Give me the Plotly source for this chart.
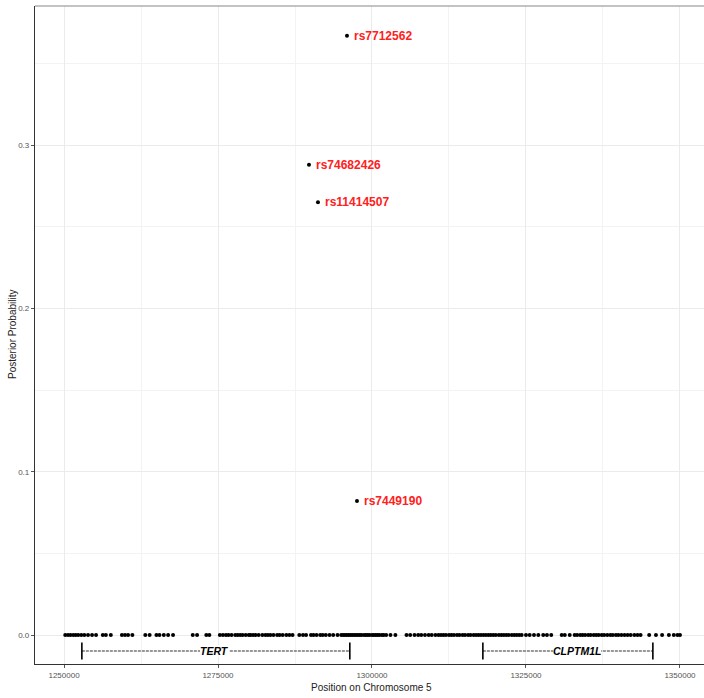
import plotly.graph_objects as go

# Positions (bp) of variants with posterior probability ~0 across the region
bg_pos = [
    1250200, 1250650, 1251050, 1251500, 1251900, 1252300, 1252800, 1253300,
    1253900, 1254550, 1255200,
    1256300, 1256800, 1257600,
    1259400, 1259900, 1260400, 1261100,
    1263200, 1263900, 1265000, 1265500, 1266200, 1266900, 1267700,
    1270900, 1271600,
    1273100, 1273600,
    1275300, 1275800, 1276300, 1276700, 1277200, 1277800, 1278200, 1278600,
    1279000, 1279500, 1280000, 1280300, 1280700, 1281100, 1281600, 1282200,
    1282700, 1283100, 1283500, 1284000, 1284600, 1285000, 1285500, 1286100,
    1286600, 1287100,
    1288200, 1288800, 1289300, 1290100, 1290500, 1291000, 1291600, 1292000,
    1292500, 1293100, 1293700, 1294400,
    1295000, 1295300, 1295600, 1295900, 1296200, 1296500, 1296800, 1297100,
    1297400, 1297700, 1298000, 1298300, 1298700, 1299000, 1299300, 1299600,
    1300000, 1300300, 1300600, 1300900, 1301200, 1301600, 1301900, 1302300,
    1303000, 1303800,
    1305600, 1306200, 1306900, 1307500, 1308000, 1308600, 1309200, 1309700,
    1310300,
    1310800, 1311200, 1311600, 1312000, 1312500, 1312900, 1313300, 1313800,
    1314200, 1314700, 1315100, 1315600, 1316000, 1316500, 1316900,
    1317300, 1317700, 1318100, 1318500, 1318900, 1319300, 1319700, 1320100,
    1320600, 1321000, 1321400, 1321800, 1322200, 1322700, 1323100, 1323500,
    1323900, 1324300,
    1325000, 1325600, 1326300, 1327000, 1327800, 1328400, 1329100,
    1330800, 1331300, 1332100,
    1332900, 1333300, 1333800, 1334200, 1334600, 1335100, 1335500, 1336000,
    1336400, 1336800, 1337300, 1337700, 1338200, 1338700, 1339100, 1339600,
    1340000, 1340500, 1341000, 1341500, 1342000, 1342600, 1343100, 1343600,
    1345000, 1346100, 1347100, 1348200, 1349000, 1349600, 1350000,
]
bg_pp = [0.0] * len(bg_pos)

# Variants with non-negligible posterior probability
snp_ids = ["rs7712562", "rs74682426", "rs11414507", "rs7449190"]
snp_pos = [1295940, 1289770, 1291230, 1297560]
snp_pp = [0.367, 0.288, 0.265, 0.082]

# Gene track
genes = ["TERT", "CLPTM1L"]
gene_start = [1252900, 1318000]
gene_end = [1296400, 1345600]
gene_label_pos = [1274500, 1333300]
gene_track_y = -0.0098

x_ticks = [1250000, 1275000, 1300000, 1325000, 1350000]
y_ticks = [0.0, 0.1, 0.2, 0.3]

fig = go.Figure()

fig.add_trace(go.Scatter(
    x=bg_pos, y=bg_pp, mode="markers",
    marker=dict(color="black", size=4), hoverinfo="x+y", showlegend=False,
))
fig.add_trace(go.Scatter(
    x=snp_pos, y=snp_pp, mode="markers", text=snp_ids,
    marker=dict(color="black", size=4), showlegend=False,
))

for g, s, e, lp in zip(genes, gene_start, gene_end, gene_label_pos):
    fig.add_trace(go.Scatter(
        x=[s, e], y=[gene_track_y, gene_track_y], mode="lines",
        line=dict(color="#333333", width=1, dash="3px,1px"),
        hoverinfo="skip", showlegend=False,
    ))
    fig.add_trace(go.Scatter(
        x=[s, e], y=[gene_track_y, gene_track_y], mode="markers",
        marker=dict(symbol="line-ns", size=12,
                    line=dict(color="black", width=1.6)),
        hoverinfo="skip", showlegend=False,
    ))
    fig.add_annotation(
        x=lp, y=gene_track_y, text=f"<b><i>{g}</i></b>", showarrow=False,
        font=dict(family="Liberation Sans, Arial", size=10.5, color="black"),
        bgcolor="white", borderpad=0, borderwidth=0,
        xanchor="center", yanchor="middle",
    )

for sid, sx, sy in zip(snp_ids, snp_pos, snp_pp):
    fig.add_annotation(
        x=sx, y=sy, text=f"<b>{sid}</b>", showarrow=False,
        xanchor="left", yanchor="middle", xshift=5,
        font=dict(family="Liberation Sans, Arial", size=12, color="#FF2020"),
    )

grid_major = "#EBEBEB"
grid_minor = "#F3F3F3"
tick_font = dict(family="Liberation Sans, Arial", size=8, color="#555555")
title_font = dict(family="Liberation Sans, Arial", size=10, color="#222222")

fig.update_xaxes(
    range=[1245290, 1353900], tick0=x_ticks[0], dtick=x_ticks[1] - x_ticks[0],
    tickformat="d", tickfont=tick_font,
    ticks="outside", ticklen=3, tickcolor="#555555",
    showgrid=True, gridcolor=grid_major, gridwidth=1,
    minor=dict(dtick=12500, tick0=x_ticks[0], showgrid=True,
               gridcolor=grid_minor, gridwidth=1),
    showline=True, linecolor="#333333", linewidth=1.2,
    zeroline=False,
)
fig.update_yaxes(
    range=[-0.01776, 0.3852], tick0=0, dtick=y_ticks[1] - y_ticks[0],
    tickformat=".1f", tickfont=tick_font,
    ticks="outside", ticklen=3, tickcolor="#555555",
    showgrid=True, gridcolor=grid_major, gridwidth=1,
    minor=dict(dtick=0.05, tick0=0, showgrid=True,
               gridcolor=grid_minor, gridwidth=1),
    showline=True, linecolor="#333333", linewidth=1.2,
    zeroline=False,
)

# Axis titles
fig.add_annotation(
    xref="paper", yref="paper", x=0.5, y=0, yshift=-16, xshift=2,
    text="Position on Chromosome 5", showarrow=False,
    xanchor="center", yanchor="top", font=title_font,
)
fig.add_annotation(
    xref="paper", yref="paper", x=0, y=0.5, xshift=-23,
    text="Posterior Probability", showarrow=False, textangle=-90,
    xanchor="center", yanchor="middle", font=title_font,
)

# Top border of the panel
fig.add_shape(type="line", xref="paper", yref="paper", x0=0, x1=1, y0=1, y1=1,
              line=dict(color="#888888", width=1.2))

fig.update_layout(
    width=704, height=698,
    margin=dict(l=35, r=0, t=6, b=34, autoexpand=False),
    paper_bgcolor="white", plot_bgcolor="white",
    showlegend=False,
)

fig.write_html("out.html")
